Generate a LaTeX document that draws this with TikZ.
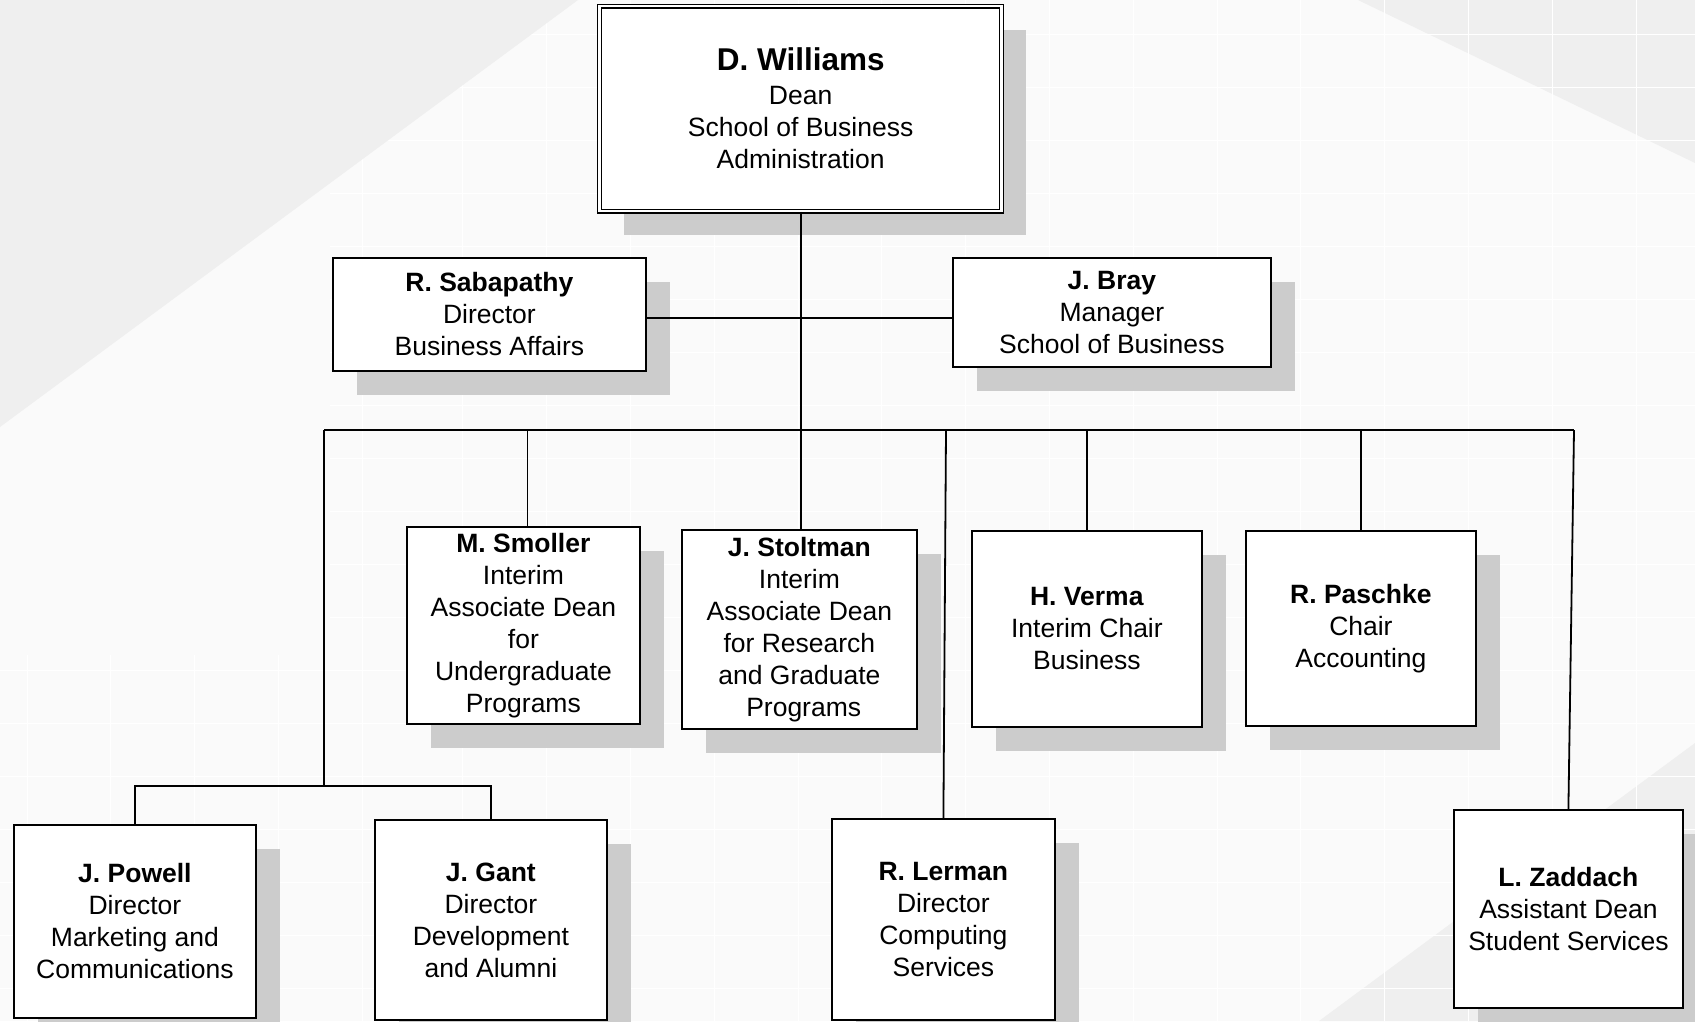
\documentclass[tikz,border=0pt]{standalone}
\usepackage{fontspec}
\setmainfont{Liberation Sans}
\usetikzlibrary{shadows}
\definecolor{bgA}{HTML}{FAFAFA}
\definecolor{bgB}{HTML}{EFEFEF}
\definecolor{shd}{HTML}{CCCCCC}
\tikzset{
  person/.style={draw=black, line width=1.8pt, fill=white, rectangle, inner sep=0pt,
    align=center, anchor=north west, font=\fontsize{26.5}{32}\selectfont,
    drop shadow={shadow xshift=24pt, shadow yshift=-24pt, fill=shd, opacity=1}},
  deanbox/.style={person, line width=1.3pt, double, double distance=2.4pt},
  link/.style={draw=black, line width=1.8pt},
  gridline/.style={draw=white, line width=0.9pt}
}
\begin{document}
\begin{tikzpicture}[x=1pt,y=-1pt]
\useasboundingbox (0,0) rectangle (1695,1021);
\clip (0,0) rectangle (1695,1021);
% background
\fill[bgA] (0,0) rectangle (1695,1021);
\fill[bgB] (1358,0) -- (1695,0) -- (1695,163) -- cycle;
\fill[bgB] (1695,743) -- (1695,1021) -- (1319,1021) -- cycle;
\foreach \i in {0,...,4} {\draw[gridline] ({27+83.8*\i},0) -- ++(0,1021);}
\foreach \i in {5,...,19} {\draw[gridline] ({43.8+83.8*\i},0) -- ++(0,1021);}
\foreach \j in {0,...,19} {\draw[gridline] (0,{34+53*\j}) -- ++(1695,0);}
\fill[bgA] (0,0) rectangle (330,655);
\fill[bgB] (0,0) -- (578,0) -- (0,427) -- cycle;

% nodes
\node[deanbox, minimum width=402pt, minimum height=205pt] (dean) at (599,5.5)
  {{\fontsize{31.5}{36}\selectfont\bfseries D. Williams}\\[2pt]Dean\\School of Business\\Administration};
\node[person, minimum width=313pt, minimum height=113pt] (sab) at (332,257)
  {\textbf{R. Sabapathy}\\Director\\Business Affairs};
\node[person, minimum width=318pt, minimum height=109pt] (bray) at (952,257)
  {\textbf{J. Bray}\\Manager\\School of Business};
\node[person, minimum width=233pt, minimum height=197pt] (smoller) at (406,526)
  {\textbf{M. Smoller}\\Interim\\Associate Dean\\for\\Undergraduate\\Programs};
\node[person, minimum width=235pt, minimum height=199pt] (stoltman) at (681,529)
  {\textbf{J. Stoltman}\\Interim\\Associate Dean\\for Research\\and Graduate\\\hspace*{8.6pt}Programs};
\node[person, minimum width=230pt, minimum height=196pt] (verma) at (971,530)
  {\textbf{H. Verma}\\Interim Chair\\Business};
\node[person, minimum width=230pt, minimum height=195pt] (paschke) at (1245,530)
  {\textbf{R. Paschke}\\Chair\\Accounting};
\node[person, minimum width=242pt, minimum height=193pt] (powell) at (13,824)
  {\textbf{J. Powell}\\Director\\Marketing and\\Communications};
\node[person, minimum width=232pt, minimum height=200pt] (gant) at (374,819)
  {\textbf{J. Gant}\\Director\\Development\\and Alumni};
\node[person, minimum width=223pt, minimum height=201pt] (lerman) at (831,818)
  {\textbf{R. Lerman}\\Director\\Computing\\Services};
\node[person, minimum width=229pt, minimum height=198pt] (zaddach) at (1453,809)
  {\textbf{L. Zaddach}\\Assistant Dean\\Student Services};

% connectors
\coordinate (mid) at (799,318);
\coordinate (busL) at (324,430);
\coordinate (busR) at (1574,430);
\coordinate (lermanTop) at (946,430);
\coordinate (branch) at (324,786);
\draw[link] (dean.south) -- (dean.south |- stoltman.north);
\draw[link] (sab.east |- mid) -- (bray.west |- mid);
\draw[link] (busL) -- (busR);
\draw[link] ([xshift=4pt]smoller.north) -- ([xshift=4pt]smoller.north |- busL);
\draw[link] (verma.north) -- (verma.north |- busL);
\draw[link] (paschke.north) -- (paschke.north |- busL);
\draw[link] (lermanTop) -- (lerman.north);
\draw[link] (busR) -- (zaddach.north);
\draw[link] (busL) -- (branch);
\draw[link] (powell.north) -- (powell.north |- branch) -- (gant.north |- branch) -- (gant.north);
\end{tikzpicture}
\end{document}
